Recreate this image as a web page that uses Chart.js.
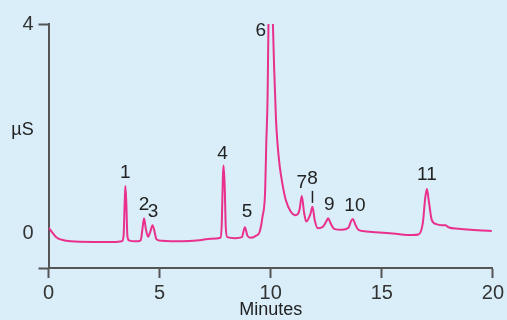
<!DOCTYPE html>
<html>
<head>
<meta charset="utf-8">
<script src="https://cdn.jsdelivr.net/npm/chart.js@4/dist/chart.umd.min.js"></script>
<style>
  html, body { margin: 0; padding: 0; background: #d9eef9; }
  #wrap { width: 507px; height: 320px; position: relative; }
</style>
</head>
<body>
<div id="wrap"><canvas id="grafico"></canvas></div>
<script>
// chromatogram: time (min) and conductivity (µS)
const tiempos = [
  0, 0.15, 0.35, 0.6, 1.0, 2.0, 3.0, 3.3,
  3.38, 3.43, 3.46, 3.5, 3.55, 3.62, 3.9, 4.15,
  4.22, 4.3, 4.38, 4.48, 4.58, 4.68, 4.76, 4.86,
  5.1, 6.0, 6.8, 7.3, 7.75, 7.8, 7.85, 7.88, 7.93, 7.98,
  8.05, 8.4, 8.7, 8.84, 8.95, 9.1, 9.35, 9.5, 9.63, 9.75,
  9.8, 9.86, 9.9, 9.95, 10.0, 10.05, 10.1, 10.16, 10.24, 10.3,
  10.4, 10.52, 10.68, 10.9, 11.1, 11.22, 11.3, 11.4, 11.5, 11.6,
  11.78, 11.88, 11.98, 12.12, 12.35, 12.5, 12.59, 12.7, 12.85, 13.2,
  13.5, 13.62, 13.7, 13.8, 13.95, 14.3, 14.9, 15.5, 16.4, 16.65,
  16.85, 16.95, 17.03, 17.12, 17.25, 17.45, 17.7, 17.86, 18.0, 18.45,
  19.0, 19.5, 19.95
];
const senal = [
  0.10, 0.02, -0.08, -0.13, -0.16, -0.17, -0.17, -0.16,
  -0.05, 0.6, 0.90, 0.6, -0.05, -0.14, -0.16, -0.14,
  0.05, 0.28, 0.08, -0.07, 0.02, 0.15, 0.05, -0.12,
  -0.15, -0.16, -0.14, -0.11, -0.09, 0.2, 1.1, 1.29, 0.9, 0.1,
  -0.08, -0.10, -0.08, 0.11, -0.05, -0.09, -0.05, 0.02, 0.31, 0.8,
  1.7, 2.6, 4.0, 5.4, 6.0, 5.2, 4.0, 3.1, 2.16, 1.75,
  1.3, 0.96, 0.63, 0.41, 0.34, 0.36, 0.45, 0.71, 0.40, 0.22,
  0.35, 0.50, 0.25, 0.09, 0.12, 0.22, 0.28, 0.18, 0.08, 0.06,
  0.10, 0.23, 0.27, 0.17, 0.06, 0.03, 0.01, -0.01, -0.04, -0.03,
  0.2, 0.65, 0.84, 0.6, 0.25, 0.17, 0.15, 0.15, 0.11, 0.08,
  0.06, 0.05, 0.04
];

// peak numbers and where they sit
const picos = ['1', '2', '3', '4', '5', '6', '7', '8', '9', '10', '11'];
const picoTiempo = [3.46, 4.30, 4.70, 7.88, 8.84, 9.87, 11.40, 11.88, 12.59, 13.70, 17.03];
const picoAltura = [0.90, 0.28, 0.15, 1.29, 0.11, 4.0, 0.71, 0.50, 0.28, 0.27, 0.84];

const xTicks = [0, 5, 10, 15, 20];
const yTicks = [0, 4];
const yMin = -0.67;

const datos = tiempos.map((t, i) => ({ x: t, y: senal[i] }));

// label offsets in px from the peak top (dx, dy)
const offsets = [
  [0, -13], [0, -14], [0, -13], [-1, -12], [2, -15], [-7, 7],
  [0, -13], [0, -28], [1, -14], [2, -13], [0, -14]
];

const etiquetas = {
  id: 'etiquetas',
  afterDraw(chart) {
    const ctx = chart.ctx;
    const xs = chart.scales.x, ys = chart.scales.y;
    ctx.save();
    ctx.fillStyle = '#222';
    ctx.textAlign = 'center';
    ctx.textBaseline = 'middle';
    ctx.font = '19px "Liberation Sans", Arial, sans-serif';
    picos.forEach((p, i) => {
      const px = xs.getPixelForValue(picoTiempo[i]) + offsets[i][0];
      const py = ys.getPixelForValue(picoAltura[i]) + offsets[i][1];
      ctx.fillText(p, px, py);
    });
    // little marker under "8"
    const x8 = xs.getPixelForValue(picoTiempo[7]);
    const y8 = ys.getPixelForValue(picoAltura[7]);
    ctx.strokeStyle = '#222';
    ctx.lineWidth = 1.5;
    ctx.beginPath();
    ctx.moveTo(x8, y8 - 16);
    ctx.lineTo(x8, y8 - 4);
    ctx.stroke();

    ctx.font = '18px "Liberation Sans", Arial, sans-serif';
    ctx.fillText('µS', 22.5, 130);
    ctx.fillText('Minutes', (xs.left + xs.right) / 2, 310);
    ctx.restore();
  }
};

const ctx = document.getElementById('grafico').getContext('2d');
new Chart(ctx, {
  type: 'line',
  data: {
    datasets: [{
      data: datos,
      borderColor: '#e8308c',
      borderWidth: 2,
      pointRadius: 0,
      fill: false,
      cubicInterpolationMode: 'monotone'
    }]
  },
  options: {
    responsive: true,
    maintainAspectRatio: false,
    animation: false,
    layout: { padding: { top: 24, right: 13.7, left: 0, bottom: 0 } },
    plugins: {
      legend: { display: false },
      tooltip: { enabled: false }
    },
    scales: {
      x: {
        type: 'linear',
        min: 0,
        max: 20,
        afterBuildTicks: s => { s.ticks = xTicks.map(v => ({ value: v })); },
        afterFit: s => { s.height = 52; },
        border: { color: '#555', width: 2 },
        grid: { drawOnChartArea: false, drawTicks: true, tickLength: 10, tickWidth: 2, tickColor: '#555' },
        ticks: {
          color: '#333',
          padding: 3,
          maxRotation: 0,
          font: { family: '"Liberation Sans", Arial, sans-serif', size: 20 }
        }
      },
      y: {
        type: 'linear',
        min: yMin,
        max: 4,
        afterBuildTicks: s => { s.ticks = [yMin].concat(yTicks).map(v => ({ value: v })); },
        afterFit: s => { s.width = 48.5; },
        border: { color: '#555', width: 2 },
        grid: {
          drawOnChartArea: false,
          drawTicks: true,
          tickLength: 10,
          tickWidth: 2,
          tickColor: c => (c.tick && c.tick.value === 0) ? 'rgba(0,0,0,0)' : '#555'
        },
        ticks: {
          color: '#333',
          padding: 5,
          font: { family: '"Liberation Sans", Arial, sans-serif', size: 20 },
          callback: v => (v === yMin ? '' : v)
        }
      }
    }
  },
  plugins: [etiquetas]
});
</script>
</body>
</html>
